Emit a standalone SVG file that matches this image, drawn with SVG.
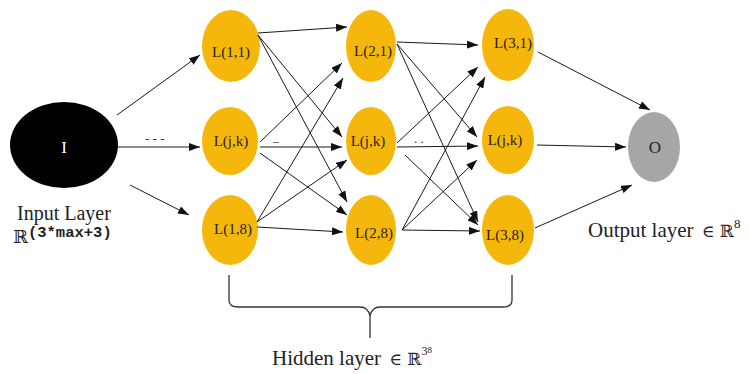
<svg xmlns="http://www.w3.org/2000/svg" width="749" height="374" viewBox="0 0 749 374">
<style>
.hid{fill:#F6B70C;}
.lbl{font-family:"Liberation Serif","DejaVu Serif",serif;font-size:15px;fill:#2a2200;text-anchor:middle;}
.big{font-family:"Liberation Serif","DejaVu Serif",serif;fill:#222;}
.dbl{font-family:"DejaVu Serif","Liberation Serif",serif;fill:#222;}
.sup{font-family:"Liberation Mono","DejaVu Sans Mono",monospace;fill:#222;}
.con line{stroke:#1a1a1a;stroke-width:1;marker-end:url(#ah);}
</style>
<defs>
<marker id="ah" markerUnits="userSpaceOnUse" markerWidth="11" markerHeight="8" refX="11" refY="4" orient="auto">
<path d="M0,0 L11,4 L0,8 z" fill="#111"/>
</marker>
</defs>
<rect width="749" height="374" fill="#fff"/>

<g id="input">
<ellipse cx="64" cy="145" rx="54" ry="43" fill="#000"/>
<text x="64" y="153" font-family="Liberation Serif,serif" font-size="17" fill="#fff" text-anchor="middle">I</text>
<text class="big" x="64" y="220" font-size="20" text-anchor="middle">Input Layer</text>
<text x="13" y="243"><tspan class="dbl" font-size="18">ℝ</tspan><tspan class="sup" font-size="15.5" font-weight="bold" dy="-6">(3*max+3)</tspan></text>
</g>

<g id="L11"><ellipse class="hid" cx="231" cy="46" rx="29" ry="36"/><text class="lbl" x="231" y="57">L(1,1)</text></g>
<g id="L1jk"><ellipse class="hid" cx="230" cy="141" rx="28" ry="34"/><text class="lbl" x="231" y="146">L(j,k)</text></g>
<g id="L18"><ellipse class="hid" cx="230" cy="230" rx="28" ry="35"/><text class="lbl" x="233" y="234">L(1,8)</text></g>

<g id="L21"><ellipse class="hid" cx="371" cy="46" rx="25" ry="36"/><text class="lbl" x="373" y="56">L(2,1)</text></g>
<g id="L2jk"><ellipse class="hid" cx="371" cy="141" rx="25" ry="34"/><text class="lbl" x="368" y="146">L(j,k)</text></g>
<g id="L28"><ellipse class="hid" cx="371" cy="230" rx="25" ry="35"/><text class="lbl" x="374" y="238">L(2,8)</text></g>

<g id="L31"><ellipse class="hid" cx="508" cy="45" rx="26" ry="36"/><text class="lbl" x="513" y="48">L(3,1)</text></g>
<g id="L3jk"><ellipse class="hid" cx="508" cy="140" rx="26" ry="34"/><text class="lbl" x="505" y="145">L(j,k)</text></g>
<g id="L38"><ellipse class="hid" cx="508" cy="230" rx="26" ry="35"/><text class="lbl" x="505" y="240">L(3,8)</text></g>

<g id="output">
<ellipse cx="654" cy="147" rx="26" ry="35" fill="#A6A6A6"/>
<text x="655" y="153" font-family="Liberation Serif,serif" font-size="17" fill="#222" text-anchor="middle">O</text>
<text x="588" y="237"><tspan class="big" font-size="21">Output layer </tspan><tspan class="dbl" font-size="17" dx="3">∈ ℝ</tspan><tspan class="big" font-size="13" dy="-9">8</tspan></text>
</g>

<g id="hidden-label">
<path d="M229,275 V300 Q229,307 238,307 H360 Q368,307 370,316 V338 M370,316 Q372,307 380,307 H503 Q512,307 512,300 V275" fill="none" stroke="#333" stroke-width="1.3"/>
<text x="272" y="365"><tspan class="big" font-size="21">Hidden layer </tspan><tspan class="dbl" font-size="17" dx="3">∈ ℝ</tspan><tspan class="big" font-size="12" dy="-10">3</tspan><tspan class="big" font-size="9" dy="-2">8</tspan></text>
</g>

<g id="connectors" class="con">
<line x1="117" y1="115" x2="200" y2="55"/>
<line x1="118" y1="147" x2="200" y2="147"/>
<line x1="130" y1="185" x2="189" y2="215"/>

<line x1="258" y1="33" x2="347" y2="27"/>
<line x1="258" y1="35" x2="342" y2="137"/>
<line x1="258" y1="35" x2="347" y2="202"/>
<line x1="260" y1="142" x2="342" y2="63"/>
<line x1="260" y1="147" x2="342" y2="147"/>
<line x1="260" y1="153" x2="347" y2="215"/>
<line x1="257" y1="222" x2="343" y2="78"/>
<line x1="257" y1="222" x2="347" y2="160"/>
<line x1="257" y1="227" x2="343" y2="232"/>

<line x1="397" y1="42" x2="478" y2="45"/>
<line x1="397" y1="44" x2="477" y2="137"/>
<line x1="397" y1="44" x2="478" y2="222"/>
<line x1="397" y1="143" x2="478" y2="67"/>
<line x1="397" y1="147" x2="478" y2="146"/>
<line x1="405" y1="155" x2="478" y2="225"/>
<line x1="402" y1="230" x2="485" y2="77"/>
<line x1="402" y1="230" x2="477" y2="160"/>
<line x1="402" y1="230" x2="480" y2="231"/>

<line x1="538" y1="52" x2="650" y2="110"/>
<line x1="537" y1="145" x2="626" y2="147"/>
<line x1="535" y1="228" x2="632" y2="185"/>
</g>

<g id="ellipsis" font-family="Liberation Serif,serif" fill="#333">
<text x="145" y="143" font-size="13">- - -</text>
<text x="273" y="145" font-size="12">–</text>
<text x="414" y="143" font-size="13">. .</text>
</g>
</svg>
